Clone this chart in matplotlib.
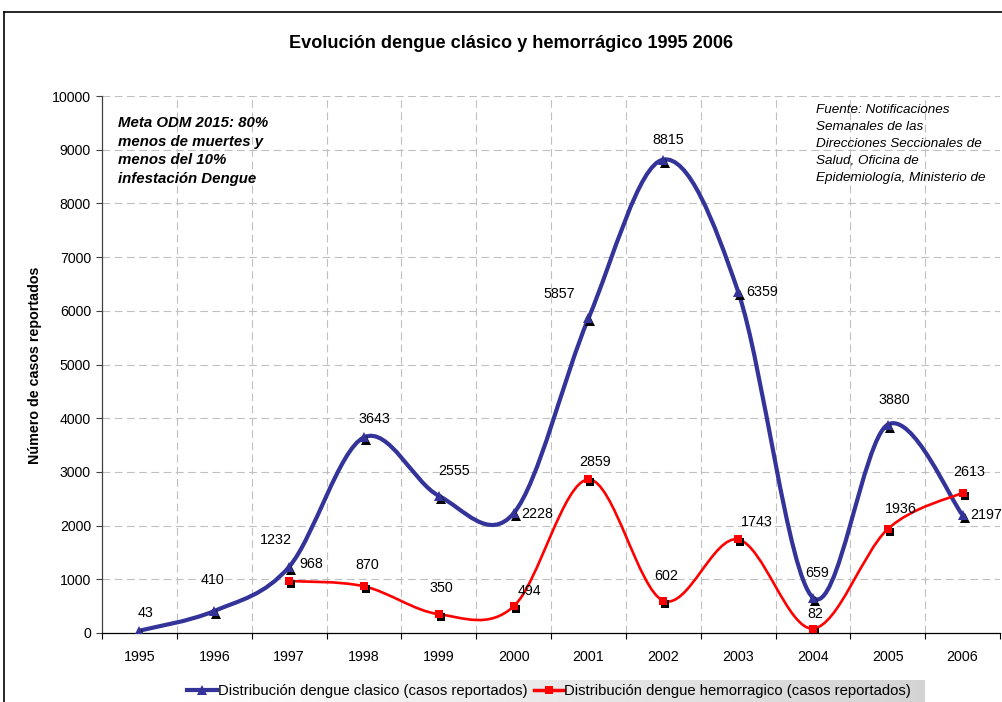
import numpy as np
import matplotlib.pyplot as plt
from matplotlib.path import Path
from matplotlib.patches import PathPatch
from matplotlib.lines import Line2D
from matplotlib.transforms import offset_copy, Bbox

plt.rcParams['font.family'] = ['Liberation Sans', 'DejaVu Sans']

# Data
years = ['1995', '1996', '1997', '1998', '1999', '2000', '2001', '2002', '2003', '2004', '2005', '2006']
clasico = [43, 410, 1232, 3643, 2555, 2228, 5857, 8815, 6359, 659, 3880, 2197]
hemorragico = [968, 870, 350, 494, 2859, 602, 1743, 82, 1936, 2613]   # from 1997
hem_start = 2

# label offsets in pixels (dx, dy, ha)
clasico_off = [(6, 18, 'center'), (-2, 31, 'center'), (-13, 27, 'center'), (10, 18, 'center'),
               (15, 25, 'center'), (8, -1, 'left'), (-29, 24, 'center'), (5, 20, 'center'),
               (8, 0, 'left'), (4, 25, 'center'), (7, 25, 'center'), (8, 0, 'left')]
hem_off = [(22, 17, 'center'), (3, 21, 'center'), (3, 26, 'center'), (16, 15, 'center'),
           (7, 17, 'center'), (3, 25, 'center'), (19, 17, 'center'), (2, 15, 'center'),
           (13, 20, 'center'), (7, 21, 'center')]

blue = '#333399'
red = '#ff0000'


def smooth_path(xs, ys):
    # Excel-like smoothed line (Catmull-Rom as cubic Bezier)
    pts = np.column_stack([xs, ys]).astype(float)
    n = len(pts)
    verts = [pts[0]]
    codes = [Path.MOVETO]
    for i in range(n - 1):
        p_prev = pts[i - 1] if i > 0 else pts[i]
        p_next2 = pts[i + 2] if i + 2 < n else pts[i + 1]
        c1 = pts[i] + (pts[i + 1] - p_prev) / 6.0
        c2 = pts[i + 1] - (p_next2 - pts[i]) / 6.0
        verts += [c1, c2, pts[i + 1]]
        codes += [Path.CURVE4] * 3
    return Path(verts, codes)


fig = plt.figure(figsize=(10.02, 7.02), dpi=100)
ax = fig.add_axes([102 / 1002, 69 / 702, 898 / 1002, 537 / 702])

x_c = np.arange(len(years))
x_h = np.arange(hem_start, hem_start + len(hemorragico))

# grid
for yv in range(1000, 10001, 1000):
    ax.axhline(yv, color='#c0c0c0', lw=0.8, dashes=(7, 4), zorder=0)
for xv in np.arange(0.5, len(years) - 0.5, 1):
    ax.axvline(xv, color='#c0c0c0', lw=0.8, dashes=(7, 4), zorder=0)

ax.add_patch(PathPatch(smooth_path(x_c, clasico), fill=False, ec=blue, lw=3, zorder=3,
                       capstyle='round', joinstyle='round'))
ax.add_patch(PathPatch(smooth_path(x_h, hemorragico), fill=False, ec=red, lw=1.9, zorder=3,
                       capstyle='round', joinstyle='round'))

shadow = offset_copy(ax.transData, fig=fig, x=2, y=-3, units='dots')
ax.plot(x_c, clasico, '^', color='black', ms=6.5, mew=0, transform=shadow, zorder=4)
ax.plot(x_c, clasico, '^', color=blue, ms=6.5, mew=0, zorder=5)
ax.plot(x_h, hemorragico, 's', color='black', ms=6, mew=0, transform=shadow, zorder=4)
ax.plot(x_h, hemorragico, 's', color=red, ms=6, mew=0, zorder=5)

for x, v, (dx, dy, ha) in zip(x_c, clasico, clasico_off):
    ax.annotate(str(v), (x, v), xytext=(dx, dy), textcoords='offset pixels',
                ha=ha, va='center', fontsize=10.3, zorder=6, annotation_clip=False)
for x, v, (dx, dy, ha) in zip(x_h, hemorragico, hem_off):
    ax.annotate(str(v), (x, v), xytext=(dx, dy), textcoords='offset pixels',
                ha=ha, va='center', fontsize=10.3, zorder=6)

ax.set_xlim(-0.5, len(years) - 0.5)
ax.set_ylim(0, 10000)
ax.set_yticks(range(0, 10001, 1000))
ax.tick_params(axis='y', labelsize=10.2, length=4, width=0.8, pad=4, color='#404040')
ax.set_xticks(x_c)
ax.set_xticklabels(years)
ax.set_xticks(np.arange(-0.5, len(years), 1), minor=True)
ax.tick_params(axis='x', which='major', length=0, labelsize=10.3, pad=12)
ax.tick_params(axis='x', which='minor', length=4, width=0.8)
for s in ['top', 'right']:
    ax.spines[s].set_visible(False)
ax.spines['left'].set_color('#404040')
ax.spines['bottom'].set_color('black')
ax.spines['left'].set_linewidth(0.9)
ax.spines['bottom'].set_linewidth(0.9)

# text boxes
ax.text(118 / 1002, 1 - 116 / 702, 'Meta ODM 2015: 80%\nmenos de muertes y\nmenos del 10%\ninfestación Dengue',
        transform=fig.transFigure, fontsize=10.8, fontweight='bold', fontstyle='italic',
        va='top', ha='left', linespacing=1.42, zorder=7)
src = ax.text(816 / 1002, 1 - 104 / 702,
              'Fuente: Notificaciones\nSemanales de las\nDirecciones Seccionales de\nSalud, Oficina de\nEpidemiología, Ministerio de\nSalud',
              transform=fig.transFigure, fontsize=9.7, fontstyle='italic',
              va='top', ha='left', linespacing=1.55, zorder=7)
src.set_clip_on(True)
src.set_clip_box(Bbox.from_extents(800, 702 - 184, 1002, 702 - 95))

fig.text(511 / 1002, 1 - 43 / 702, 'Evolución dengue clásico y hemorrágico 1995 2006',
         ha='center', va='center', fontsize=13.1, fontweight='bold')
fig.text(35 / 1002, 1 - 365 / 702, 'Número de casos reportados', rotation=90,
         ha='center', va='center', fontsize=10.3, fontweight='bold')

# chart border
fig.add_artist(Line2D([4 / 1002, 4 / 1002], [0, 1 - 12 / 702], transform=fig.transFigure, color='black', lw=1.2))
fig.add_artist(Line2D([4 / 1002, 1], [1 - 12 / 702, 1 - 12 / 702], transform=fig.transFigure, color='black', lw=1.2))

# legend with gradient background
lax = fig.add_axes([180 / 1002, 0, 745 / 1002, 22 / 702])
grad = np.linspace(1.0, 0.83, 256).reshape(1, -1)
lax.imshow(np.dstack([grad, grad, grad]), aspect='auto', extent=(0, 1, 0, 1))
lax.axis('off')
handles = [Line2D([], [], color=blue, lw=3, marker='^', ms=6.5, mew=0),
           Line2D([], [], color=red, lw=2.5, marker='s', ms=6, mew=0)]
fig.legend(handles, ['Distribución dengue clasico (casos reportados)',
                     'Distribución dengue hemorragico (casos reportados)'],
           loc='center', bbox_to_anchor=(549 / 1002, 1 - 691 / 702), ncol=2, frameon=False,
           fontsize=10.75, handlelength=2.0, handletextpad=0.05, columnspacing=0.45, borderpad=0)

fig.savefig('out.png', dpi=100)
